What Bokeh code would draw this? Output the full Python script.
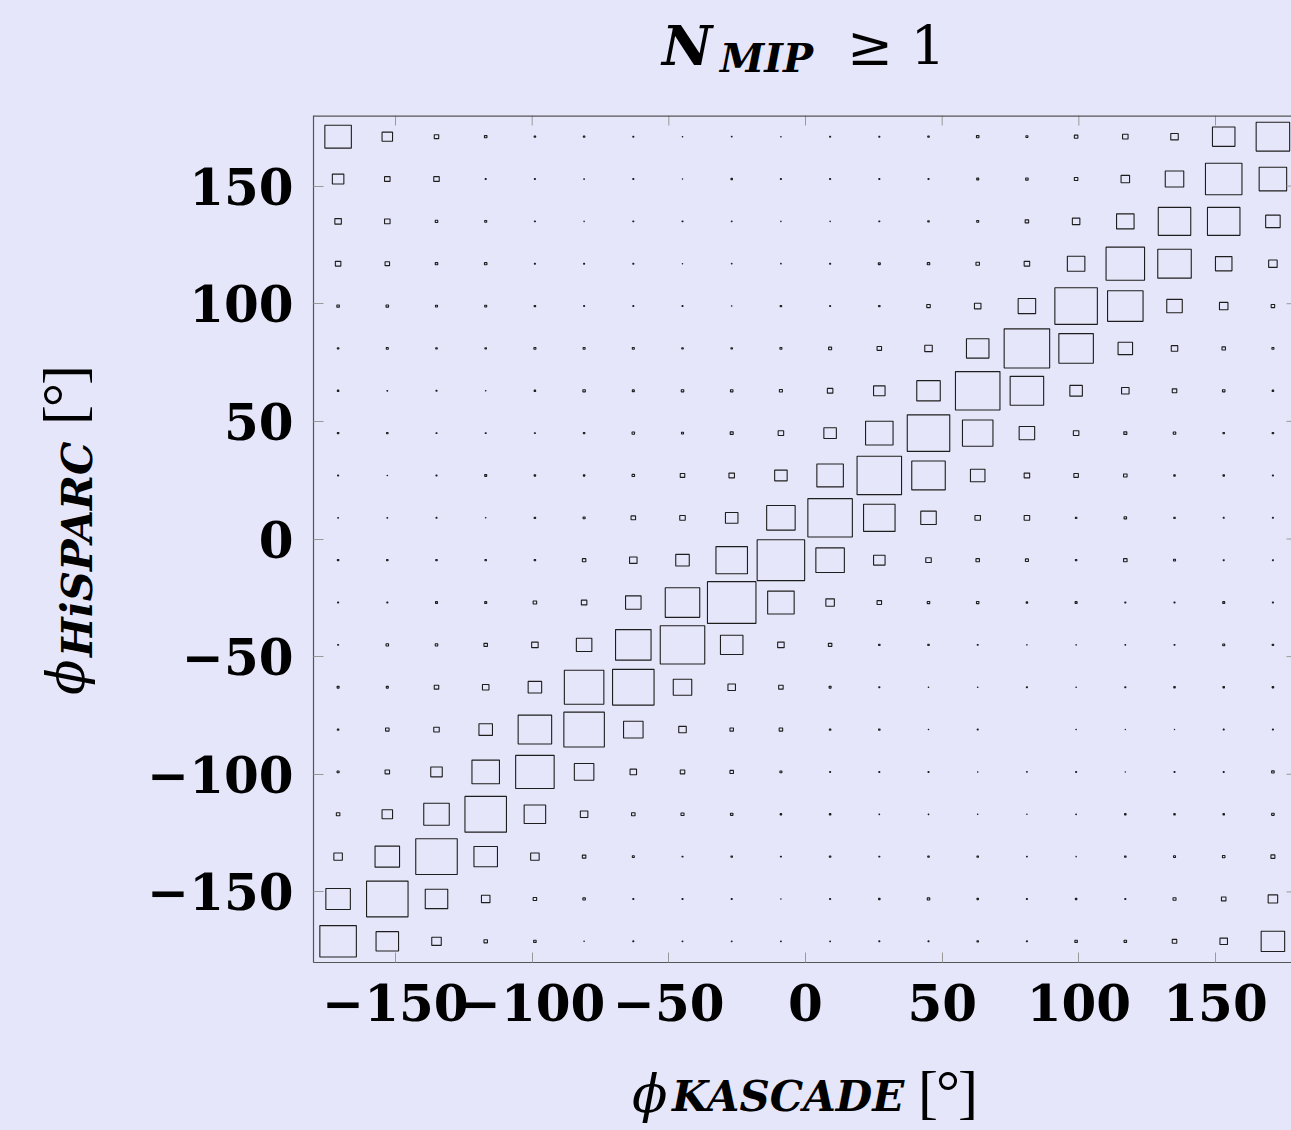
import math
from bokeh.plotting import figure
from bokeh.models import Range1d, FixedTicker, ColumnDataSource, Div, Span
from bokeh.layouts import column, row
from bokeh.embed import file_html
from bokeh.resources import INLINE

# ---------------- data ----------------
phi_kascade_bins = [-171, -153, -135, -117, -99, -81, -63, -45, -27, -9,
                    9, 27, 45, 63, 81, 99, 117, 135, 153, 171]
phi_hisparc_bins = [171, 153, 135, 117, 99, 81, 63, 45, 27, 9,
                    -9, -27, -45, -63, -81, -99, -117, -135, -153, -171]
bin_width = 18
full_size = 49.2  # box_size value that fills a whole bin

# relative box sizes, rows = phi_hisparc (top to bottom), cols = phi_kascade
box_size = [
    [27, 11, 5, 3, 2, 2, 1.5, 1, 1.2, 1, 1.5, 1.5, 2, 3, 2.5, 4, 6, 8, 23, 34],
    [12, 6, 6, 1.5, 1.5, 1.2, 1.5, 0.8, 2, 1.5, 1.5, 1.5, 1.5, 2.5, 3, 4, 9, 19, 37, 28],
    [7, 6, 3, 2.5, 1.5, 1, 1.5, 1.5, 1.2, 1, 1, 1.5, 2, 2.5, 4, 8, 18, 33, 33, 15],
    [6, 5, 3, 3, 1.5, 1.5, 1.5, 0.8, 1.2, 1.2, 1.5, 2.5, 3, 4, 6, 18, 39, 34, 17, 9],
    [3, 3, 2.5, 2.5, 2, 1.5, 1.5, 1.5, 1, 2, 1.5, 2, 4, 7, 18, 43, 36, 16, 9, 4],
    [2, 2.5, 2, 2, 2.5, 2.5, 2.5, 2, 2, 2.5, 3.5, 5, 8, 23, 46, 35, 15, 7, 4, 2.5],
    [2, 1.3, 1.5, 1, 2, 3, 2.5, 3, 3, 3.5, 6, 12, 24, 45, 34, 13, 8, 5, 3, 2],
    [2, 2, 1.5, 1.5, 1.5, 2, 3, 2.5, 3.5, 6, 13, 28, 43, 31, 16, 6, 3.5, 3, 2, 2],
    [1.5, 1, 1.5, 2.5, 2, 2, 3, 5, 6, 13, 27, 45, 34, 15, 6, 5, 4, 2, 2, 1.5],
    [1.2, 1.2, 1.5, 1, 2, 2.5, 5, 6, 13, 29, 45, 32, 16, 6, 6, 2, 3, 2, 1.5, 1.5],
    [2, 2, 2, 2, 2, 4, 8, 14, 32, 48, 29, 12, 6, 4, 3.5, 2, 4, 2.5, 1.5, 1.5],
    [1.5, 1.5, 2.5, 2.5, 4, 6, 16, 35, 49, 27, 9, 5, 3, 3, 2, 2.5, 1.5, 1.5, 2.5, 1.5],
    [1.5, 3, 3, 4, 7, 16, 36, 45, 23, 7, 4, 2, 2, 1.5, 1, 1, 1.2, 1.5, 2.5, 2],
    [2.5, 2.5, 5, 7, 14, 40, 42, 19, 8, 5, 2.5, 1.5, 1, 1, 1.5, 1, 1.5, 2, 2, 2],
    [2, 4, 6, 14, 34, 41, 20, 8, 4, 4, 2, 2, 1, 1.5, 0, 1, 0.8, 0.8, 1.5, 1.5],
    [2.5, 5, 12, 28, 39, 20, 7, 5, 4, 2.5, 1.5, 1.5, 1.5, 1, 1.2, 1.5, 0.8, 1.5, 1.5, 3],
    [4, 11, 26, 42, 22, 8, 4, 3.5, 3, 2, 2, 1.2, 1.2, 1, 0.8, 1.2, 2, 2, 2, 3],
    [9, 25, 42, 24, 9, 4, 2.5, 1.5, 2, 1.5, 2, 1.5, 2, 2, 1.2, 1, 2, 2.5, 3, 4.5],
    [25, 42, 23, 9, 4, 3, 1.5, 1.5, 1.5, 0.8, 1.5, 2, 3, 2, 1.5, 2, 1.5, 3.5, 5, 10],
    [37, 23, 10, 4, 3, 1, 1.5, 1.2, 1.2, 1.2, 1.2, 1.5, 1.5, 2, 1.5, 3, 3, 5, 8, 24],
]

tick_values = [-150, -100, -50, 0, 50, 100, 150]
tick_labels = ["\u2212150", "\u2212100", "\u221250", "0", "50", "100", "150"]

title_main, title_sub, title_rel = "N", "MIP", "\u2265 1"
xlab_main, xlab_sub, xlab_unit = "\u03d5", "KASCADE", "[\u00b0]"
ylab_main, ylab_sub, ylab_unit = "\u03d5", "HiSPARC", "[\u00b0]"

# ---------------- build ----------------
LINE_W = 1.1
xs, ys, ws = [], [], []
for r, yv in enumerate(phi_hisparc_bins):
    for c, xv in enumerate(phi_kascade_bins):
        s = box_size[r][c]
        if s <= 0:
            continue
        xs.append(xv)
        ys.append(yv)
        # box_size is the outer extent incl. part of the stroke
        ws.append(max(s - 0.5, 0.4) / full_size * bin_width)
src = ColumnDataSource(data=dict(x=xs, y=ys, w=ws))

BG = "#e6e6fa"
FONT = "DejaVu Serif"
FCSS = "'DejaVu Serif', serif"
BCSS = "'Liberation Serif', serif"

p = figure(width=1171, height=940,
           x_range=Range1d(-180, 177.8), y_range=Range1d(-180, 180),
           output_backend="svg", toolbar_location=None,
           min_border_left=193, min_border_right=0,
           min_border_top=15, min_border_bottom=78,
           background_fill_color=BG, border_fill_color=BG,
           outline_line_color=None, margin=0)
p.grid.visible = False

p.rect(x="x", y="y", width="w", height="w", source=src,
       fill_color=None, line_color="#1e1e1e", line_width=LINE_W)

for ax in [p.xaxis[0], p.yaxis[0]]:
    ax.ticker = FixedTicker(ticks=tick_values)
    ax.major_label_overrides = dict(zip(tick_values, tick_labels))
    ax.major_label_text_font = FONT
    ax.major_label_text_font_style = "bold"
    ax.major_label_text_font_size = "50px"
    ax.major_label_text_color = "black"
    ax.major_tick_in = 10
    ax.major_tick_out = 0
    ax.minor_tick_line_color = None
    ax.major_tick_line_color = "#999999"
    ax.axis_line_color = "#555555"
    ax.axis_line_width = 1.2
p.xaxis[0].major_label_standoff = 21
p.yaxis[0].major_label_standoff = 20

# top frame edge with inward ticks, and the mirrored ticks of the right edge
p.add_layout(Span(location=180, dimension="width", line_color="#555555", line_width=2.4))
p.scatter(x=tick_values, y=[180] * len(tick_values), marker="dash", angle=math.pi / 2,
          size=20, line_color="#999999", line_width=1)
p.scatter(x=[180] * len(tick_values), y=tick_values, marker="dash",
          size=22, line_color="#999999", line_width=1)


def span(text, left, top, size, weight, style, font=FCSS, extra=""):
    return (f'<span style="position:absolute;left:{left}px;top:{top}px;white-space:nowrap;'
            f'font-family:{font};font-size:{size}px;line-height:1;font-weight:{weight};'
            f'font-style:{style};color:black;{extra}">{text}</span>')


# title (baselines: 66 / 73 px)
title_html = ('<div style="position:relative;width:1291px;height:100px;">'
              + span(title_main, 662, 18, 55, "bold", "italic")
              + span(title_sub, 720, 38, 40, "bold", "italic")
              + span(title_rel, 847, 19, 55, "normal", "normal")
              + '</div>')
title_div = Div(text=title_html, width=1291, height=100, margin=0)

# y label, rotated container
ylab_html = ('<div style="position:relative;width:120px;height:940px;">'
             '<div style="position:absolute;left:20px;top:595px;width:330px;height:80px;'
             'transform-origin:0 0;transform:rotate(-90deg);">'
             + span(ylab_main, 0, 20, 52, "normal", "italic")
             + span(ylab_sub, 38, 37, 42, "bold", "italic")
             + span(ylab_unit, 270, 14, 60, "normal", "normal", BCSS, "letter-spacing:-2px;")
             + '</div></div>')
ylab_div = Div(text=ylab_html, width=120, height=940, margin=0)

# x label (baselines 72 px inside the 90 px strip)
xlab_html = ('<div style="position:relative;width:1291px;height:90px;">'
             + span(xlab_main, 632, 28, 52, "normal", "italic")
             + span(xlab_sub, 672, 36, 42, "bold", "italic")
             + span(xlab_unit, 918, 22, 60, "normal", "normal", BCSS, "letter-spacing:-2px;")
             + '</div>')
xlab_div = Div(text=xlab_html, width=1291, height=90, margin=0)

layout = column(title_div, row(ylab_div, p, spacing=0, margin=0), xlab_div,
                spacing=0, margin=0)

html = file_html(layout, INLINE)
html = html.replace("</head>", "<style>html,body{background-color:#e6e6fa;}</style></head>", 1)
open("out.html", "w").write(html)
